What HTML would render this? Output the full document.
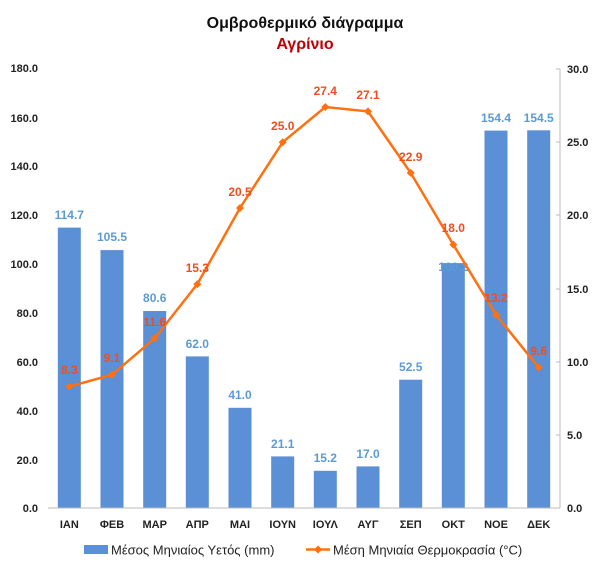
<!DOCTYPE html>
<html><head><meta charset="utf-8"><style>
body{margin:0;background:#fff;}
svg{display:block;font-family:"Liberation Sans",sans-serif;}
.t{font-size:11px;font-weight:bold;fill:#222;}
.b{font-size:12px;font-weight:bold;fill:#5B9BD5;text-anchor:middle;}
.o{font-size:12px;font-weight:bold;fill:#F04E1E;text-anchor:middle;}
</style></head><body>
<svg width="600" height="572" viewBox="0 0 600 572">
<rect width="600" height="572" fill="#fff"/>
<text x="305" y="28" text-anchor="middle" font-size="16" font-weight="bold" fill="#111">Ομβροθερμικό διάγραμμα</text>
<text x="305" y="49" text-anchor="middle" font-size="16" font-weight="bold" fill="#C00000">Αγρίνιο</text>
<g class="t" text-anchor="end">
<text x="38" y="72">180.0</text><text x="38" y="122">160.0</text><text x="38" y="170">140.0</text><text x="38" y="219">120.0</text><text x="38" y="268">100.0</text><text x="38" y="317">80.0</text><text x="38" y="366">60.0</text><text x="38" y="415">40.0</text><text x="38" y="464">20.0</text><text x="38" y="512">0.0</text>
</g>
<g class="t">
<text x="567" y="73">30.0</text><text x="567" y="146">25.0</text><text x="567" y="219">20.0</text><text x="567" y="293">15.0</text><text x="567" y="366">10.0</text><text x="567" y="439">5.0</text><text x="567" y="512">0.0</text>
</g>
<line x1="560" y1="69" x2="560" y2="508" stroke="#bbb"/>
<g stroke="#bbb"><line x1="556" y1="69" x2="560" y2="69"/><line x1="556" y1="142" x2="560" y2="142"/><line x1="556" y1="215" x2="560" y2="215"/><line x1="556" y1="289" x2="560" y2="289"/><line x1="556" y1="362" x2="560" y2="362"/><line x1="556" y1="435" x2="560" y2="435"/></g>
<g fill="#5B8FD6">
<rect x="57.8" y="227.6" width="23" height="280.4"/>
<rect x="100.5" y="250.1" width="23" height="257.9"/>
<rect x="143.2" y="311" width="23" height="197"/>
<rect x="185.8" y="356.4" width="23" height="151.6"/>
<rect x="228.5" y="407.8" width="23" height="100.2"/>
<rect x="271.2" y="456.4" width="23" height="51.6"/>
<rect x="313.8" y="470.8" width="23" height="37.2"/>
<rect x="356.5" y="466.4" width="23" height="41.6"/>
<rect x="399.2" y="379.7" width="23" height="128.3"/>
<rect x="441.8" y="263.1" width="23" height="244.9"/>
<rect x="484.5" y="130.6" width="23" height="377.4"/>
<rect x="527.2" y="130.3" width="23" height="377.7"/>
</g>
<line x1="48" y1="508" x2="560" y2="508" stroke="#bbb"/>
<g class="b">
<text x="69.3" y="219">114.7</text><text x="112" y="241">105.5</text><text x="154.7" y="302">80.6</text><text x="197.3" y="348">62.0</text><text x="240" y="399">41.0</text><text x="282.7" y="448">21.1</text><text x="325.3" y="462">15.2</text><text x="368" y="458">17.0</text><text x="410.7" y="371">52.5</text><text x="453.3" y="271">100.2</text><text x="496" y="122">154.4</text><text x="538.7" y="122">154.5</text>
</g>
<polyline fill="none" stroke="#FF7010" stroke-width="2.5" points="69.3,386.5 112,374.8 154.7,338.3 197.3,284.1 240,208 282.7,142.2 325.3,107 368,111.4 410.7,172.9 453.3,244.6 496,314.8 538.7,367.5"/>
<g fill="#FF7010">
<path d="M69.3 382.5l4 4-4 4-4-4z"/><path d="M112 370.8l4 4-4 4-4-4z"/><path d="M154.7 334.3l4 4-4 4-4-4z"/><path d="M197.3 280.1l4 4-4 4-4-4z"/><path d="M240 204l4 4-4 4-4-4z"/><path d="M282.7 138.2l4 4-4 4-4-4z"/><path d="M325.3 103l4 4-4 4-4-4z"/><path d="M368 107.4l4 4-4 4-4-4z"/><path d="M410.7 168.9l4 4-4 4-4-4z"/><path d="M453.3 240.6l4 4-4 4-4-4z"/><path d="M496 310.8l4 4-4 4-4-4z"/><path d="M538.7 363.5l4 4-4 4-4-4z"/>
</g>
<g class="o">
<text x="69.3" y="374">8.3</text><text x="112" y="362">9.1</text><text x="154.7" y="326">11.6</text><text x="197.3" y="272">15.3</text><text x="240" y="196">20.5</text><text x="282.7" y="130">25.0</text><text x="325.3" y="95">27.4</text><text x="368" y="99">27.1</text><text x="410.7" y="161">22.9</text><text x="453.3" y="232">18.0</text><text x="496" y="302">13.2</text><text x="538.7" y="355">9.6</text>
</g>
<g class="t" text-anchor="middle">
<text x="69.3" y="528">ΙΑΝ</text><text x="112" y="528">ΦΕΒ</text><text x="154.7" y="528">ΜΑΡ</text><text x="197.3" y="528">ΑΠΡ</text><text x="240" y="528">ΜΑΙ</text><text x="282.7" y="528">ΙΟΥΝ</text><text x="325.3" y="528">ΙΟΥΛ</text><text x="368" y="528">ΑΥΓ</text><text x="410.7" y="528">ΣΕΠ</text><text x="453.3" y="528">ΟΚΤ</text><text x="496" y="528">ΝΟΕ</text><text x="538.7" y="528">ΔΕΚ</text>
</g>
<rect x="84" y="545" width="24" height="9" fill="#5B8FD6"/>
<text x="111" y="554.5" font-size="13" fill="#222">Μέσος Μηνιαίος Υετός (mm)</text>
<line x1="306" y1="549.5" x2="330" y2="549.5" stroke="#FF7010" stroke-width="2.5"/>
<path d="M318 545.5l4 4-4 4-4-4z" fill="#FF7010"/>
<text x="333" y="554.5" font-size="13" fill="#222">Μέση Μηνιαία Θερμοκρασία (°C)</text>
</svg>
</body></html>
